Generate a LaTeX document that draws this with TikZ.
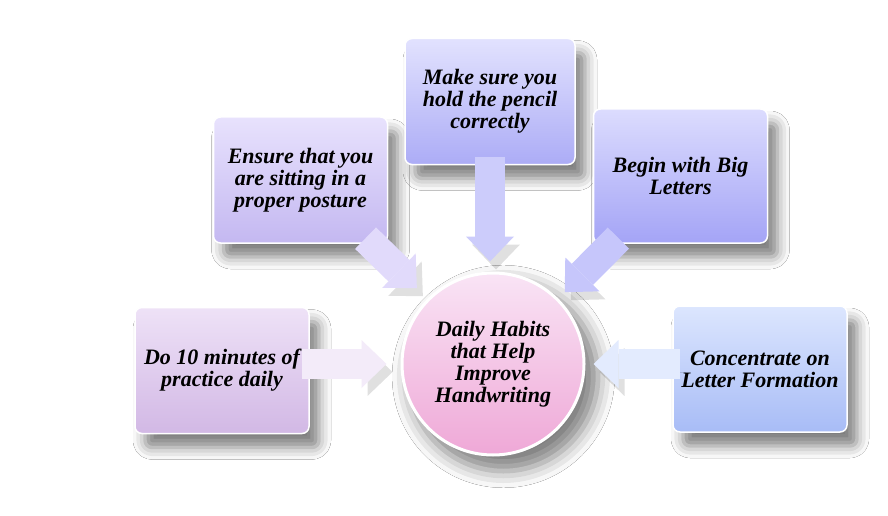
\documentclass[tikz,border=0pt]{standalone}
\usepackage{fontspec}
\setmainfont{Liberation Serif}
\usetikzlibrary{arrows.meta,shadows.blur}

\definecolor{dotop}{HTML}{EEE2F7}
\definecolor{dobot}{HTML}{D2B8E5}
\definecolor{posturetop}{HTML}{E8E2FD}
\definecolor{posturebot}{HTML}{C4B8F1}
\definecolor{penciltop}{HTML}{E2E2FE}
\definecolor{pencilbot}{HTML}{ACACF6}
\definecolor{bigtop}{HTML}{DCDCFE}
\definecolor{bigbot}{HTML}{A4A4F6}
\definecolor{conctop}{HTML}{DCE6FE}
\definecolor{concbot}{HTML}{A8BCF6}
\definecolor{hubtop}{HTML}{F9E4F5}
\definecolor{hubbot}{HTML}{EFA8D7}

\newcommand\habitfont{\fontsize{22}{22}\selectfont\bfseries\itshape}

\tikzset{
  habit/.style={rectangle, rounded corners=7pt, minimum width=174pt,
    minimum height=126pt, align=center, draw=white, line width=1.5pt,
    font=\habitfont,
    blur shadow={shadow xshift=10pt, shadow yshift=-14pt,
      shadow blur radius=12pt, shadow opacity=50}},
  hub/.style={circle, minimum size=182pt, inner sep=0pt, align=center,
    draw=white, line width=3pt, top color=hubtop, bottom color=hubbot,
    font=\habitfont,
    blur shadow={shadow xshift=10pt, shadow yshift=-12pt, shadow scale=1.04,
      shadow blur radius=16pt, shadow opacity=50}},
  blockarrow/.style={draw=#1, line width=30pt, shorten <=-8pt,
    -{Triangle[length=25pt, width=48pt, line width=0pt]},
    preaction={draw=black, opacity=0.12,
      transform canvas={shift={(6pt,-8pt)}}}}
}

\begin{document}
\begin{tikzpicture}[x=1pt,y=-1pt]

    \fill[white] (0,0) rectangle (888,516);
    \useasboundingbox (0,0) rectangle (888,516);

    % centre
    \node[hub] (hub) at (493,364) {Daily Habits\\that Help\\Improve\\Handwriting};

    % habits round it
    \node[habit, top color=dotop, bottom color=dobot] (do10) at (222,370.5)
        {Do 10 minutes of\\practice daily};
    \node[habit, top color=posturetop, bottom color=posturebot] (posture) at (300.5,180)
        {Ensure that you\\are sitting in a\\proper posture};
    \node[habit, top color=penciltop, bottom color=pencilbot, minimum width=170pt] (pencil) at (490,101.5)
        {Make sure you\\hold the pencil\\correctly};
    \node[habit, top color=bigtop, bottom color=bigbot, minimum height=134pt] (big) at (680.5,176)
        {Begin with Big\\Letters};
    \node[habit, top color=conctop, bottom color=concbot] (conc) at (760,369)
        {Concentrate on\\Letter Formation};

    % arrows into the centre
    \draw[blockarrow=dotop!70!white, shorten >=14pt] (do10.east |- hub.west) -- (hub.west);
    \draw[blockarrow=posturetop!80!posturebot, shorten >=15pt] (posture.-42.6) -- (hub.135);
    \draw[blockarrow=penciltop!60!pencilbot, shorten >=10pt] (pencil.south) -- (pencil.south |- hub.north);
    \draw[blockarrow=bigtop!60!bigbot, shorten >=9pt] (big.-135.4) -- (hub.45);
    \draw[blockarrow=conctop!80!white, shorten >=8pt] (conc.west |- hub.east) -- (hub.east);

\end{tikzpicture}
\end{document}
